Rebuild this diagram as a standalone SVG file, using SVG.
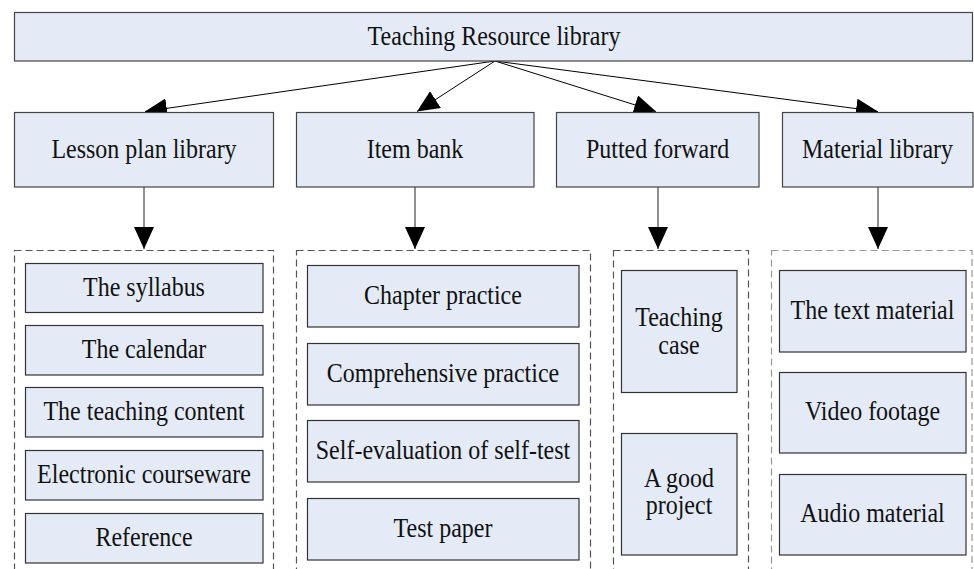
<svg xmlns="http://www.w3.org/2000/svg" width="974" height="569" viewBox="0 0 974 569">
<style>
.box{fill:#E4EBF6;stroke:#444;stroke-width:1.2}
.ibox{fill:#E4EBF6;stroke:#333;stroke-width:1.2}
.grp{fill:none;stroke:#555;stroke-width:1.2;stroke-dasharray:7,4}
.t{font-family:"Liberation Serif","Times New Roman",serif;font-size:24px;fill:#111;text-anchor:middle}
.c{fill:none;stroke:#000;stroke-width:1}
.v{fill:none;stroke:#555;stroke-width:1.3}
</style>
<defs>
<marker id="ah" markerUnits="userSpaceOnUse" markerWidth="22" markerHeight="20" refX="22" refY="10" orient="auto" viewBox="0 0 22 20">
<path d="M0,0 L22,10 L0,20 z" fill="#000"/>
</marker>
</defs>
<rect width="974" height="569" fill="#fff"/>

<g id="groups">
<rect class="grp" x="14.5" y="250.5" width="259" height="330"/>
<rect class="grp" x="296.5" y="250.5" width="294" height="330"/>
<rect class="grp" x="613.5" y="250.5" width="135" height="330"/>
<rect class="grp" x="771.5" y="250.5" width="200.5" height="330" style="stroke:#999"/>
</g>

<g id="connectors">
<line class="c" x1="495" y1="61" x2="145" y2="111.5" marker-end="url(#ah)"/>
<line class="c" x1="495" y1="61" x2="417" y2="111.5" marker-end="url(#ah)"/>
<line class="c" x1="495" y1="61" x2="656" y2="111.5" marker-end="url(#ah)"/>
<line class="c" x1="495" y1="61" x2="878" y2="111.5" marker-end="url(#ah)"/>
<line class="v" x1="144" y1="187" x2="144" y2="249" marker-end="url(#ah)"/>
<line class="v" x1="415" y1="187" x2="415" y2="249" marker-end="url(#ah)"/>
<line class="v" x1="658" y1="187" x2="658" y2="249" marker-end="url(#ah)"/>
<line class="v" x1="878" y1="187" x2="878" y2="249" marker-end="url(#ah)"/>
</g>

<g id="root">
<rect class="box" x="14.5" y="12.5" width="958" height="48.5"/>
<text class="t" transform="translate(494,45) scale(1,1.1)">Teaching Resource library</text>
</g>

<g id="lesson-plan-library">
<rect class="box" x="14.5" y="112.5" width="259" height="74.5"/>
<text class="t" transform="translate(144,158) scale(1,1.1)">Lesson plan library</text>
</g>
<g id="item-bank">
<rect class="box" x="296.5" y="112.5" width="237.5" height="74.5"/>
<text class="t" transform="translate(415,158) scale(1,1.1)">Item bank</text>
</g>
<g id="putted-forward">
<rect class="box" x="556.5" y="112.5" width="202.5" height="74.5"/>
<text class="t" transform="translate(657.5,158) scale(1,1.1)">Putted forward</text>
</g>
<g id="material-library">
<rect class="box" x="782.5" y="112.5" width="190.5" height="74.5"/>
<text class="t" transform="translate(877.5,158) scale(1,1.1)">Material library</text>
</g>

<g id="the-syllabus">
<rect class="ibox" x="25.5" y="263.5" width="237.5" height="49"/>
<text class="t" transform="translate(144,296) scale(1,1.1)">The syllabus</text>
</g>
<g id="the-calendar">
<rect class="ibox" x="25.5" y="325.5" width="237.5" height="49.5"/>
<text class="t" transform="translate(144,358) scale(1,1.1)">The calendar</text>
</g>
<g id="the-teaching-content">
<rect class="ibox" x="25.5" y="387.5" width="237.5" height="49.5"/>
<text class="t" transform="translate(144,420) scale(1,1.1)">The teaching content</text>
</g>
<g id="electronic-courseware">
<rect class="ibox" x="25.5" y="450.5" width="237.5" height="49.5"/>
<text class="t" transform="translate(144,483) scale(1,1.1)">Electronic courseware</text>
</g>
<g id="reference">
<rect class="ibox" x="25.5" y="513.5" width="237.5" height="49.5"/>
<text class="t" transform="translate(144,546) scale(1,1.1)">Reference</text>
</g>

<g id="chapter-practice">
<rect class="ibox" x="307.5" y="265.5" width="271.5" height="61.5"/>
<text class="t" transform="translate(443,304) scale(1,1.1)">Chapter practice</text>
</g>
<g id="comprehensive-practice">
<rect class="ibox" x="307.5" y="343.5" width="271.5" height="61.5"/>
<text class="t" transform="translate(443,382) scale(1,1.1)">Comprehensive practice</text>
</g>
<g id="self-evaluation">
<rect class="ibox" x="307.5" y="420.5" width="271.5" height="61.5"/>
<text class="t" transform="translate(443,459) scale(1,1.1)">Self-evaluation of self-test</text>
</g>
<g id="test-paper">
<rect class="ibox" x="307.5" y="498.5" width="271.5" height="61.5"/>
<text class="t" transform="translate(443,537) scale(1,1.1)">Test paper</text>
</g>

<g id="teaching-case">
<rect class="ibox" x="621.5" y="270.5" width="115.5" height="122"/>
<text class="t" transform="translate(679,326) scale(1,1.1)">Teaching</text>
<text class="t" transform="translate(679,354) scale(1,1.1)">case</text>
</g>
<g id="a-good-project">
<rect class="ibox" x="621.5" y="433.5" width="115.5" height="121.5"/>
<text class="t" transform="translate(679,487) scale(1,1.1)">A good</text>
<text class="t" transform="translate(679,514) scale(1,1.1)">project</text>
</g>

<g id="the-text-material">
<rect class="ibox" x="779.5" y="270.5" width="186.5" height="81.5"/>
<text class="t" transform="translate(872.5,319) scale(1,1.1)">The text material</text>
</g>
<g id="video-footage">
<rect class="ibox" x="779.5" y="372.5" width="186.5" height="80.5"/>
<text class="t" transform="translate(872.5,420) scale(1,1.1)">Video footage</text>
</g>
<g id="audio-material">
<rect class="ibox" x="779.5" y="474.5" width="186.5" height="80.5"/>
<text class="t" transform="translate(872.5,522) scale(1,1.1)">Audio material</text>
</g>
</svg>
